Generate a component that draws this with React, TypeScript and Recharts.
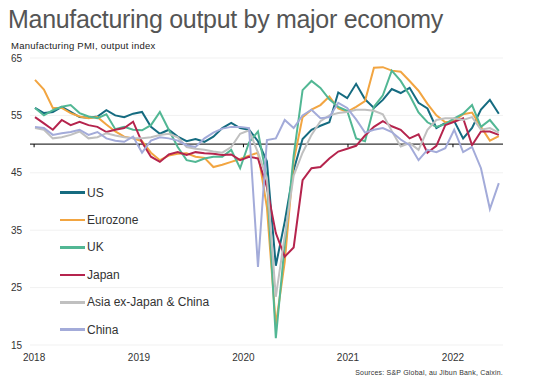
import React from 'react';
import { LineChart, Line, XAxis, YAxis, CartesianGrid, ReferenceLine, Legend } from 'recharts';

// Monthly manufacturing output indices, Jan 2018 .. May 2022
const us = [56.3, 55.4, 55.6, 56.5, 55.6, 54.7, 54.6, 54.8, 55.9, 55.0, 54.7, 55.3,
  55.6, 53.0, 51.8, 52.5, 51.3, 50.5, 50.9, 50.4, 51.3, 52.8, 53.7, 52.8,
  52.5, 50.5, 47.0, 28.8, 36.5, 45.5, 50.9, 52.5, 53.2, 53.8, 59.0, 58.0,
  60.5, 57.8, 56.3, 57.7, 59.6, 58.9, 59.8, 57.2, 56.2, 52.8, 53.7, 54.0,
  51.0, 52.8, 56.0, 57.7, 55.3];
const eurozone = [61.2, 59.5, 56.3, 56.3, 55.4, 54.8, 54.5, 54.7, 53.4, 52.2, 51.3, 51.0,
  50.5, 48.5, 47.2, 48.0, 48.3, 48.4, 47.8, 47.6, 46.0, 46.4, 46.9, 47.4,
  48.0, 48.5, 39.0, 18.5, 29.5, 47.0, 54.7, 56.0, 56.8, 58.3, 56.2, 55.6,
  56.5, 57.5, 63.3, 63.4, 62.8, 62.6, 61.0, 59.3, 57.0, 55.0, 53.8, 54.0,
  55.2, 55.5, 53.0, 50.6, 51.4];
const uk = [56.3, 55.0, 55.9, 56.5, 56.8, 55.4, 54.8, 54.5, 55.2, 52.6, 53.0, 52.5,
  52.4, 53.3, 55.6, 52.5, 49.5, 47.2, 46.9, 47.5, 47.8, 47.8, 49.0, 45.8,
  50.3, 52.2, 44.0, 16.2, 32.5, 48.0, 59.4, 61.0, 59.8, 57.8, 56.5, 55.8,
  51.0, 50.5, 56.5, 58.5, 62.8, 61.0, 58.5, 55.5, 53.8, 53.0, 53.5, 54.5,
  55.3, 56.8, 53.0, 54.2, 52.3];
const japan = [54.7, 53.6, 52.5, 54.2, 53.3, 53.9, 53.3, 53.0, 52.1, 52.5, 52.8, 53.9,
  50.3, 47.8, 46.9, 48.2, 48.6, 48.1, 48.6, 48.4, 48.3, 48.1, 48.2, 47.2,
  47.8, 47.5, 42.5, 34.5, 30.4, 32.0, 43.7, 45.8, 46.0, 47.5, 48.7, 49.2,
  49.7, 51.5, 53.0, 54.0, 53.1, 52.5, 51.0, 51.7, 48.5, 49.7, 53.3, 53.9,
  54.5, 49.8, 52.2, 52.2, 51.6];
const asiaEx = [52.8, 52.5, 51.0, 51.2, 51.6, 52.2, 51.0, 51.2, 51.9, 51.5, 51.2, 51.0,
  51.0, 51.2, 51.6, 51.8, 51.2, 49.5, 49.2, 49.0, 48.7, 48.5, 49.5, 51.8,
  52.4, 48.5, 44.0, 23.4, 34.0, 44.5, 48.5, 51.6, 54.0, 55.0, 55.4, 55.6,
  56.0, 56.0, 55.8, 55.2, 52.3, 49.6, 50.2, 49.0, 52.5, 54.2, 54.5, 54.5,
  54.2, 54.7, 52.5, 52.8, 52.0];
const china = [53.0, 52.8, 51.6, 51.9, 52.1, 52.5, 51.6, 52.1, 51.0, 50.6, 50.4, 51.3,
  48.5, 50.6, 51.2, 51.0, 50.6, 49.8, 49.5, 51.0, 52.0, 52.7, 53.0, 53.0,
  52.8, 28.6, 50.7, 51.0, 54.2, 52.8, 55.0, 56.0, 54.5, 54.7, 57.2, 56.3,
  54.3, 52.0, 52.5, 52.8, 52.1, 50.8, 49.8, 47.2, 49.0, 48.6, 49.3, 52.5,
  48.6, 49.5, 45.8, 38.7, 43.2];

const yearLabels = ['2018', '2019', '2020', '2021', '2022'];
const yearTickPos = [-0.1, 11.66, 23.37, 35.09, 46.86];
const yTicks = [15, 25, 35, 45, 55, 65];

const series = [
  { key: 'us', name: 'US', color: '#156b80', values: us },
  { key: 'eurozone', name: 'Eurozone', color: '#f2a541', values: eurozone },
  { key: 'uk', name: 'UK', color: '#52b794', values: uk },
  { key: 'japan', name: 'Japan', color: '#b5244d', values: japan },
  { key: 'asiaEx', name: 'Asia ex-Japan & China', color: '#c0c0c0', values: asiaEx },
  { key: 'china', name: 'China', color: '#a3abd9', values: china },
];

const data = us.map((_, i) => {
  const row: Record<string, number> = { i };
  series.forEach((s) => { row[s.key] = s.values[i]; });
  return row;
});

const renderLegend = () => (
  <div>
    {series.map((s) => (
      <div key={s.key} style={{ height: 27.4, display: 'flex', alignItems: 'center' }}>
        <div style={{ width: 25, height: 2.5, background: s.color, marginRight: 2 }} />
        <span style={{ fontSize: 12, color: '#333', whiteSpace: 'nowrap' }}>{s.name}</span>
      </div>
    ))}
  </div>
);

export default function App() {
  return (
    <div style={{ position: 'absolute', left: 0, top: 0, width: 534, height: 390, background: '#fff', fontFamily: '"Liberation Sans", Arial, sans-serif', overflow: 'hidden' }}>
      <div style={{ position: 'absolute', left: 8, top: 7, fontSize: 25, lineHeight: '25px', color: '#555', letterSpacing: -0.3, whiteSpace: 'nowrap' }}>
        Manufacturing output by major economy
      </div>
      <div style={{ position: 'absolute', left: 11, top: 41.3, fontSize: 9.5, lineHeight: '9.5px', color: '#222', letterSpacing: 0.25, whiteSpace: 'nowrap' }}>
        Manufacturing PMI, output index
      </div>
      <div style={{ position: 'absolute', left: 0, top: 0 }}>
        <LineChart width={534} height={390} data={data} margin={{ top: 58, right: 31, bottom: 25, left: 0 }}>
          <CartesianGrid vertical={false} stroke="#f1f1f1" strokeWidth={1} />
          <XAxis
            type="number"
            dataKey="i"
            domain={[-0.56, 52.47]}
            ticks={yearTickPos}
            interval={0}
            tickFormatter={(_v: number, idx: number) => yearLabels[idx]}
            axisLine={false}
            tickLine={false}
            tickSize={0}
            tickMargin={9}
            height={20}
            tick={{ fontSize: 10, fill: '#333' }}
          />
          <YAxis
            type="number"
            domain={[15, 65]}
            ticks={yTicks}
            interval={0}
            axisLine={false}
            tickLine={false}
            tickSize={0}
            tickMargin={8}
            width={30}
            tick={{ fontSize: 10, fill: '#333' }}
          />
          <ReferenceLine y={50} stroke="#000" strokeWidth={1} />
          {yearTickPos.map((p) => (
            <ReferenceLine key={p} segment={[{ x: p, y: 50 }, { x: p, y: 49.45 }]} stroke="#000" strokeWidth={1} />
          ))}
          {series.map((s) => (
            <Line
              key={s.key}
              type="linear"
              dataKey={s.key}
              name={s.name}
              stroke={s.color}
              strokeWidth={2}
              dot={false}
              activeDot={false}
              isAnimationActive={false}
            />
          ))}
          <Legend
            layout="horizontal"
            verticalAlign="middle"
            align="center"
            content={renderLegend}
            wrapperStyle={{ position: 'absolute', left: 60, top: 179, width: 220, height: 170 }}
          />
        </LineChart>
      </div>
      <div style={{ position: 'absolute', right: 31, top: 369, fontSize: 7, lineHeight: '7px', color: '#333', letterSpacing: 0.2, whiteSpace: 'nowrap' }}>
        Sources: S&amp;P Global, au Jibun Bank, Caixin.
      </div>
    </div>
  );
}
